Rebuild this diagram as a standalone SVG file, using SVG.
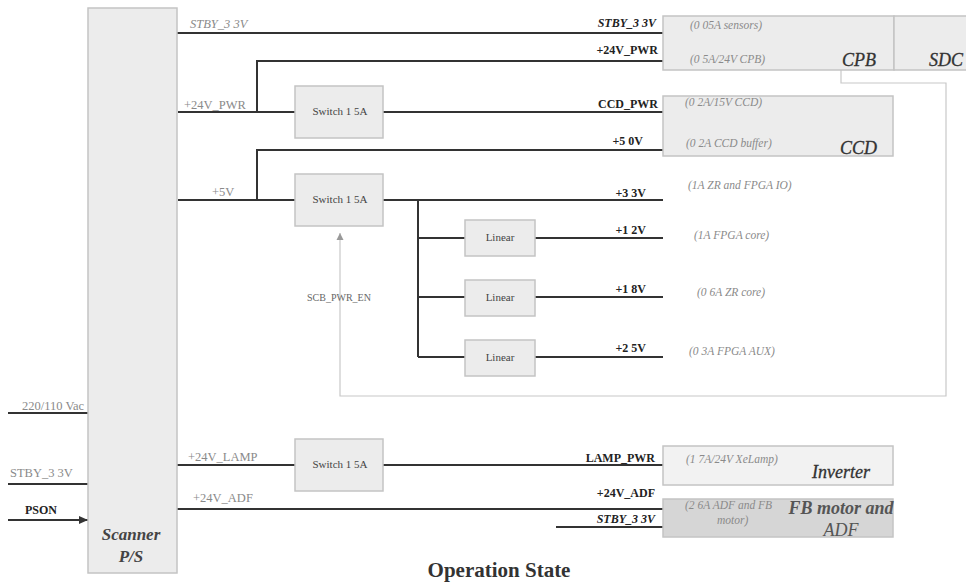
<svg xmlns="http://www.w3.org/2000/svg" width="966" height="584" viewBox="0 0 966 584">
<style>
.box{fill:#ececec;stroke:#c4c4c4;stroke-width:1.5}
.w{stroke:#333;stroke-width:2;fill:none}
.en{stroke:#c8c8c8;stroke-width:1.2;fill:none}
text{font-family:"Liberation Serif","Times New Roman",serif}
.gl{font-size:12.5px;fill:#8a8a8a}
.gi{font-size:12.5px;fill:#8a8a8a;font-style:italic}
.bl{font-size:12px;fill:#222;font-weight:bold}
.bi{font-size:12px;fill:#222;font-weight:bold;font-style:italic}
.note{font-size:11.5px;fill:#8a8a8a;font-style:italic}
.sm{font-size:11px;fill:#444;text-anchor:middle}
.big{font-size:18px;fill:#333;font-style:italic;stroke:#333;stroke-width:0.3}
</style>
<defs>
<marker id="ag" markerWidth="8" markerHeight="8" refX="7" refY="4" orient="auto" markerUnits="userSpaceOnUse"><path d="M0,0.5 L7,4 L0,7.5 Z" fill="#999"/></marker>
<marker id="ad" markerWidth="10" markerHeight="10" refX="9" refY="5" orient="auto" markerUnits="userSpaceOnUse"><path d="M0,1 L9,5 L0,9 Z" fill="#333"/></marker>
</defs>

<g id="connectors">
<path class="en" d="M841,70 V83 H946 V396 H340 V233" marker-end="url(#ag)"/>
<path class="w" d="M177,33 H663"/>
<path class="w" d="M178,112 H295 M257,112 V61 H663"/>
<path class="w" d="M383,112 H663"/>
<path class="w" d="M178,200 H295 M257,200 V150 H663"/>
<path class="w" d="M383,200 H663 M418,200 V357 M418,238 H465 M418,297 H465 M418,357 H465"/>
<path class="w" d="M535,238 H663 M535,297 H663 M535,357 H663"/>
<path class="w" d="M8,413 H88 M8,484 H88"/>
<path class="w" d="M8,520 H88" marker-end="url(#ad)"/>
<path class="w" d="M177,465 H295 M383,465 H663"/>
<path class="w" d="M177,509 H663 M556,527 H663"/>
</g>

<g id="scanner-ps">
<rect class="box" x="88" y="8" width="89" height="565"/>
<text x="131" y="540" text-anchor="middle" style="font-size:17px;font-weight:bold;font-style:italic;fill:#444">Scanner</text>
<text x="131" y="562" text-anchor="middle" style="font-size:17px;font-weight:bold;font-style:italic;fill:#444">P/S</text>
</g>

<g id="switch1">
<rect class="box" x="295" y="86" width="88" height="52"/>
<text class="sm" x="340" y="115">Switch 1 5A</text>
</g>
<g id="switch2">
<rect class="box" x="295" y="174" width="88" height="52"/>
<text class="sm" x="340" y="203">Switch 1 5A</text>
</g>
<g id="switch3">
<rect class="box" x="295" y="439" width="88" height="52"/>
<text class="sm" x="340" y="468">Switch 1 5A</text>
</g>
<g id="linear1">
<rect class="box" x="465" y="220" width="70" height="36"/>
<text class="sm" x="500" y="241">Linear</text>
</g>
<g id="linear2">
<rect class="box" x="465" y="280" width="70" height="36"/>
<text class="sm" x="500" y="301">Linear</text>
</g>
<g id="linear3">
<rect class="box" x="465" y="340" width="70" height="36"/>
<text class="sm" x="500" y="361">Linear</text>
</g>

<g id="cpb">
<rect class="box" x="663" y="16" width="231" height="54"/>
<text class="note" x="690" y="29">(0 05A sensors)</text>
<text class="note" x="690" y="63">(0 5A/24V CPB)</text>
<text class="big" x="842" y="66">CPB</text>
</g>
<g id="sdc">
<rect class="box" x="894" y="16" width="80" height="54"/>
<text class="big" x="929" y="66">SDC</text>
</g>
<g id="ccd">
<rect class="box" x="663" y="96" width="230" height="60"/>
<text class="note" x="685" y="106">(0 2A/15V CCD)</text>
<text class="note" x="686" y="147">(0 2A CCD buffer)</text>
<text class="big" x="840" y="154">CCD</text>
</g>
<g id="inverter">
<rect x="663" y="446" width="230" height="39" fill="#f2f2f2" stroke="#c4c4c4" stroke-width="1.5"/>
<text class="note" x="686" y="463">(1 7A/24V XeLamp)</text>
<text class="big" x="812" y="478">Inverter</text>
</g>
<g id="fb-motor-adf">
<rect x="663" y="499" width="230" height="38" fill="#d6d6d6" stroke="#c4c4c4" stroke-width="1.5"/>
<text class="note" x="685" y="509">(2 6A ADF and FB</text>
<text class="note" x="717" y="524">motor)</text>
<text x="841" y="514" text-anchor="middle" style="font-size:18px;font-weight:bold;font-style:italic;fill:#555">FB motor and</text>
<text x="841" y="536" text-anchor="middle" style="font-size:18px;font-style:italic;fill:#555">ADF</text>
</g>

<g id="labels">
<text class="gi" x="190" y="28">STBY_3 3V</text>
<text class="gl" x="184" y="109">+24V_PWR</text>
<text class="gl" x="212" y="196">+5V</text>
<text class="gl" x="188" y="461">+24V_LAMP</text>
<text class="gl" x="193" y="502">+24V_ADF</text>
<text class="gl" x="22" y="410">220/110 Vac</text>
<text class="gl" x="10" y="477">STBY_3 3V</text>
<text class="bl" x="25" y="514">PSON</text>
<text class="sm" x="339" y="301" style="fill:#666;font-size:10px">SCB_PWR_EN</text>

<g text-anchor="end">
<text class="bi" x="656" y="27">STBY_3 3V</text>
<text class="bl" x="658" y="54">+24V_PWR</text>
<text class="bl" x="658" y="108">CCD_PWR</text>
<text class="bl" x="643" y="145">+5 0V</text>
<text class="bl" x="646" y="197">+3 3V</text>
<text class="bl" x="646" y="234">+1 2V</text>
<text class="bl" x="646" y="293">+1 8V</text>
<text class="bl" x="646" y="352">+2 5V</text>
<text class="bl" x="655" y="462">LAMP_PWR</text>
<text class="bl" x="655" y="497">+24V_ADF</text>
<text class="bi" x="655" y="523">STBY_3 3V</text>
</g>

<text class="note" x="688" y="189">(1A ZR and FPGA IO)</text>
<text class="note" x="694" y="239">(1A FPGA core)</text>
<text class="note" x="697" y="296">(0 6A ZR core)</text>
<text class="note" x="689" y="355">(0 3A FPGA AUX)</text>

<text x="499" y="577" text-anchor="middle" style="font-size:21px;font-weight:bold;fill:#333">Operation State</text>
</g>
</svg>
